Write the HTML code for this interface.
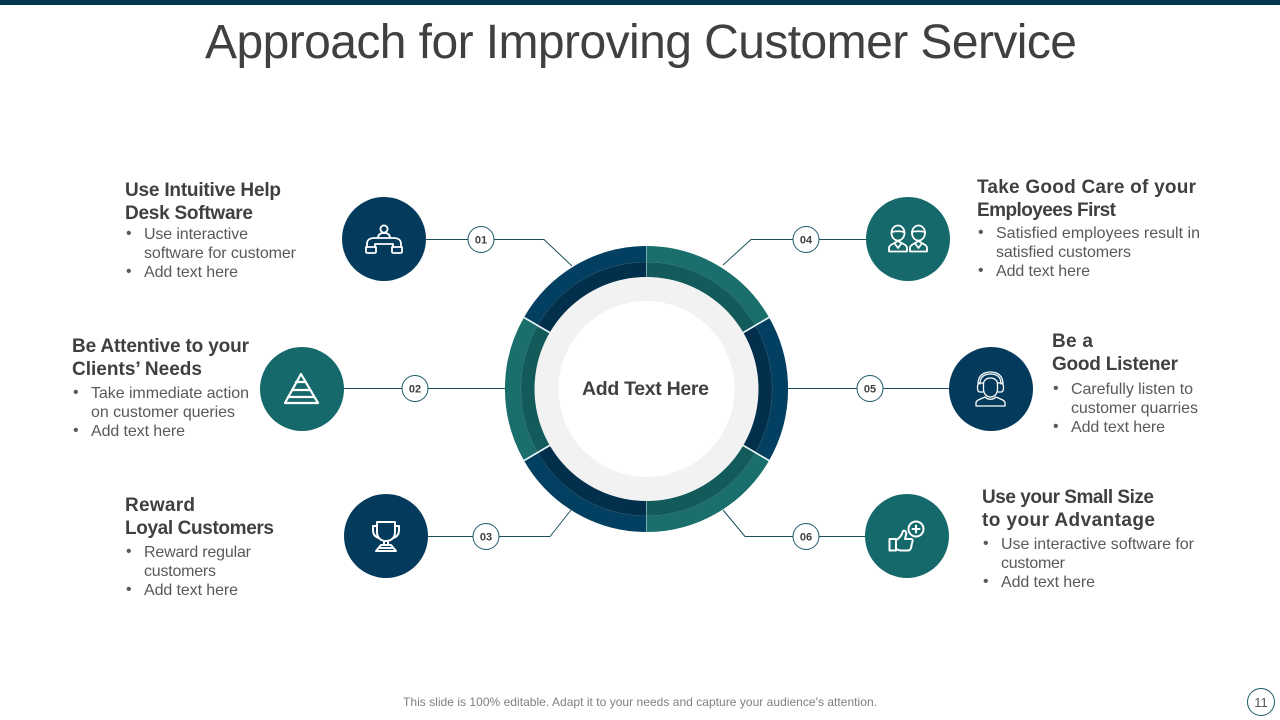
<!DOCTYPE html>
<html><head><meta charset="utf-8"><style>
html,body{margin:0;padding:0;background:#fff;width:1280px;height:720px;overflow:hidden}
svg{display:block}
text{font-family:"Liberation Sans",sans-serif}
.h{font-size:19px;font-weight:bold;fill:#404040}
.b{font-size:16px;fill:#595959}
.n{font-size:11px;font-weight:bold;fill:#404040;text-anchor:middle}
.c{fill:none;stroke:#1c4f5c;stroke-width:1}
.bd{fill:#fff;stroke:#1c5a68;stroke-width:1}
.i{fill:none;stroke:#fff;stroke-width:1.800;stroke-linejoin:round;stroke-linecap:round}
</style></head><body>
<svg width="1280" height="720" viewBox="0 0 1280 720" xmlns="http://www.w3.org/2000/svg">
<rect width="1280" height="5" fill="#03384f"/>
<text x="205" y="58" font-size="48" fill="#404040" textLength="872" lengthAdjust="spacing">Approach for Improving Customer Service</text>

<!-- connectors -->
<path class="c" d="M426 239.500H544L572 266M344 388.500H506M428 536.500H550L571 510M723 265L751 239.500H866M788 388.500H949M723 510L745 536.500H865"/>

<!-- ring -->
<g transform="translate(646.5 389) scale(.99 1) translate(-646 -389)">
<g fill="none" stroke-width="16">
<path d="M646 254A135 135 0 0 1 762.900 321.500" stroke="#1a6e6c"/>
<path d="M762.900 321.500A135 135 0 0 1 762.900 456.500" stroke="#033f60"/>
<path d="M762.900 456.500A135 135 0 0 1 646 524" stroke="#1a6e6c"/>
<path d="M646 524A135 135 0 0 1 529.100 456.500" stroke="#033f60"/>
<path d="M529.100 456.500A135 135 0 0 1 529.100 321.500" stroke="#1a6e6c"/>
<path d="M529.100 321.500A135 135 0 0 1 646 254" stroke="#033f60"/>
</g>
<g fill="none" stroke-width="15.500">
<path d="M646 269.500A119.500 119.500 0 0 1 749.500 329.250" stroke="#135a5a"/>
<path d="M749.500 329.250A119.500 119.500 0 0 1 749.500 448.750" stroke="#022f4b"/>
<path d="M749.500 448.750A119.500 119.500 0 0 1 646 508.500" stroke="#135a5a"/>
<path d="M646 508.500A119.500 119.500 0 0 1 542.500 448.750" stroke="#022f4b"/>
<path d="M542.500 448.750A119.500 119.500 0 0 1 542.500 329.250" stroke="#135a5a"/>
<path d="M542.500 329.250A119.500 119.500 0 0 1 646 269.500" stroke="#022f4b"/>
</g>
<circle cx="646" cy="389" r="127" fill="none" stroke="#9fd0d0" stroke-width=".5" opacity=".35"/>
<path d="M646 246V277M646 501V532" stroke="#a9d3d6" stroke-width=".7"/>
<path d="M743 333L770.500 317M743 445L770.500 461M549 333L521.500 317M549 445L521.500 461" stroke="#e8f6f6" stroke-width="1.600"/>
</g>
<circle cx="646.500" cy="389" r="112" fill="#f2f2f2"/>
<circle cx="646.500" cy="389" r="88" fill="#fff"/>
<text x="582" y="395" font-size="19.500" font-weight="bold" fill="#404040" textLength="127" lengthAdjust="spacing">Add Text Here</text>

<!-- badges -->
<circle class="bd" cx="481" cy="239.500" r="13"/><text class="n" x="481" y="243.500">01</text>
<circle class="bd" cx="415" cy="388.500" r="13"/><text class="n" x="415" y="392.500">02</text>
<circle class="bd" cx="486" cy="536.500" r="13"/><text class="n" x="486" y="540.500">03</text>
<circle class="bd" cx="806" cy="239.500" r="13"/><text class="n" x="806" y="243.500">04</text>
<circle class="bd" cx="870" cy="388.500" r="13"/><text class="n" x="870" y="392.500">05</text>
<circle class="bd" cx="806" cy="536.500" r="13"/><text class="n" x="806" y="540.500">06</text>

<!-- icon circles -->
<circle cx="384" cy="239" r="42" fill="#043b5c"/>
<circle cx="302" cy="389" r="42" fill="#15696a"/>
<circle cx="386" cy="536" r="42" fill="#043b5c"/>
<circle cx="908" cy="239" r="42" fill="#15696a"/>
<circle cx="991" cy="389" r="42" fill="#043b5c"/>
<circle cx="907" cy="536" r="42" fill="#15696a"/>

<!-- icon 1 -->
<g class="i">
<circle cx="384" cy="229" r="3.600"/>
<path d="M378 238C378 234 381 233 384 233C387 233 390 234 390 238"/>
<path d="M367 247V244C367 240 370 238 374 238H394C398 238 401 240 401 244V247"/>
<path d="M375 247V244H393V247"/>
<path d="M366 247H376V252C376 253 375 253 374 253H368C367 253 366 253 366 252ZM392 247H402V252C402 253 401 253 400 253H394C393 253 392 253 392 252Z"/>
</g>
<!-- icon 2 -->
<g class="i" style="stroke-width:2.200">
<path d="M301 374L318 403H285Z"/>
<path d="M296 382H306M292 390H310M288 397H314"/>
</g>
<!-- icon 3 -->
<g class="i" style="stroke-width:2">
<path d="M377 522H395V532C395 538 391 541 386 541C381 541 377 538 377 532Z"/>
<path d="M377 526H373V530C373 534 375 537 379 538M395 526H399V530C399 534 397 537 393 538"/>
<path d="M384 541V545H388V541M381 545H391L396 551H376Z"/>
<path d="M380 548H392"/>
</g>
<!-- icon 4 -->
<g class="i" style="stroke-width:1.800">
<ellipse cx="898" cy="233" rx="6.500" ry="7.500"/><ellipse cx="918.500" cy="233" rx="6.500" ry="7.500"/>
<path d="M892 232C895 231 901 231 904 232M912 232C915 231 922 231 925 232"/>
<path d="M889 251.500V248C889 245 893 244 898 241C903 244 907 245 907 248V251.500Z"/>
<path d="M910 251.500V248C910 245 914 244 918.500 241C923 244 927 245 927 248V251.500Z"/>
<path d="M895 244L898 248L901 244M915.500 244L918.500 248L921.500 244"/>
</g>
<!-- icon 5 -->
<g class="i" style="stroke-width:1.300">
<path d="M983.500 384C983.500 380 987 378 990.500 378C994 378 997.500 380 997.500 384V389C997.500 394 994 397 990.500 397C987 397 983.500 394 983.500 389Z"/>
<path d="M980 384C980 377 984 374 990.500 374C997 374 1001 377 1001 384"/>
<path d="M978 384C978 376 983 372 990.500 372C998 372 1003 376 1003 384"/>
<path d="M983 383H980C978 383 977.500 385 977.500 387.500C977.500 390 978 392 980 392H983M998 383H1001C1003 383 1003.500 385 1003.500 387.500C1003.500 390 1003 392 1001 392H998"/>
<path d="M976 406V403C976 400 981 399 985 397C988 400 993 400 996 397C1000 399 1005 400 1005 403V406Z"/>
</g>
<!-- icon 6 -->
<g class="i" style="stroke-width:2">
<path d="M889.500 539H896V550.500H889.500Z"/>
<path d="M896 540C900 538 902 535 903 531C905 530 907 532 906 535L905 539H911C913 539 913 541 912 543L911 548C910 550.500 909 550.500 907 550.500H900L896 549"/>
<circle cx="916" cy="529" r="7.500"/>
<path d="M916 525.500V532.500M912.500 529H919.500"/>
</g>

<!-- left text -->
<text class="h" x="125" y="196" textLength="156" lengthAdjust="spacing">Use Intuitive Help</text>
<text class="h" x="125" y="219" textLength="128" lengthAdjust="spacing">Desk Software</text>
<text class="b" x="126" y="238">•</text>
<text class="b" x="144" y="239" textLength="104" lengthAdjust="spacing">Use interactive</text>
<text class="b" x="144" y="258" textLength="152" lengthAdjust="spacing">software for customer</text>
<text class="b" x="126" y="276">•</text>
<text class="b" x="144" y="277" textLength="94" lengthAdjust="spacing">Add text here</text>

<text class="h" x="72" y="352" textLength="177" lengthAdjust="spacing">Be Attentive to your</text>
<text class="h" x="72" y="375" textLength="130" lengthAdjust="spacing">Clients’ Needs</text>
<text class="b" x="73" y="397">•</text>
<text class="b" x="91" y="398" textLength="158" lengthAdjust="spacing">Take immediate action</text>
<text class="b" x="91" y="417" textLength="144" lengthAdjust="spacing">on customer queries</text>
<text class="b" x="73" y="435">•</text>
<text class="b" x="91" y="436" textLength="94" lengthAdjust="spacing">Add text here</text>

<text class="h" x="125" y="511" textLength="70" lengthAdjust="spacing">Reward</text>
<text class="h" x="125" y="534" textLength="149" lengthAdjust="spacing">Loyal Customers</text>
<text class="b" x="126" y="556">•</text>
<text class="b" x="144" y="557" textLength="107" lengthAdjust="spacing">Reward regular</text>
<text class="b" x="144" y="576" textLength="72" lengthAdjust="spacing">customers</text>
<text class="b" x="126" y="594">•</text>
<text class="b" x="144" y="595" textLength="94" lengthAdjust="spacing">Add text here</text>

<!-- right text -->
<text class="h" x="977" y="193" textLength="219" lengthAdjust="spacing">Take Good Care of your</text>
<text class="h" x="977" y="216" textLength="139" lengthAdjust="spacing">Employees First</text>
<text class="b" x="978" y="237">•</text>
<text class="b" x="996" y="238" textLength="204" lengthAdjust="spacing">Satisfied employees result in</text>
<text class="b" x="996" y="257" textLength="135" lengthAdjust="spacing">satisfied customers</text>
<text class="b" x="978" y="275">•</text>
<text class="b" x="996" y="276" textLength="94" lengthAdjust="spacing">Add text here</text>

<text class="h" x="1052" y="347" textLength="41" lengthAdjust="spacing">Be a</text>
<text class="h" x="1052" y="370" textLength="126" lengthAdjust="spacing">Good Listener</text>
<text class="b" x="1053" y="393">•</text>
<text class="b" x="1071" y="394" textLength="122" lengthAdjust="spacing">Carefully listen to</text>
<text class="b" x="1071" y="413" textLength="127" lengthAdjust="spacing">customer quarries</text>
<text class="b" x="1053" y="431">•</text>
<text class="b" x="1071" y="432" textLength="94" lengthAdjust="spacing">Add text here</text>

<text class="h" x="982" y="503" textLength="172" lengthAdjust="spacing">Use your Small Size</text>
<text class="h" x="982" y="526" textLength="173" lengthAdjust="spacing">to your Advantage</text>
<text class="b" x="983" y="548">•</text>
<text class="b" x="1001" y="549" textLength="193" lengthAdjust="spacing">Use interactive software for</text>
<text class="b" x="1001" y="568" textLength="64" lengthAdjust="spacing">customer</text>
<text class="b" x="983" y="586">•</text>
<text class="b" x="1001" y="587" textLength="94" lengthAdjust="spacing">Add text here</text>

<!-- footer -->
<text x="403" y="706" font-size="12" fill="#7f7f7f" textLength="474" lengthAdjust="spacing">This slide is 100% editable. Adapt it to your needs and capture your audience's attention.</text>
<circle cx="1261" cy="702" r="13.500" fill="#fff" stroke="#1c5a68" stroke-width="1"/>
<text x="1261" y="707" font-size="13" fill="#595959" text-anchor="middle">11</text>
</svg>
</body></html>
